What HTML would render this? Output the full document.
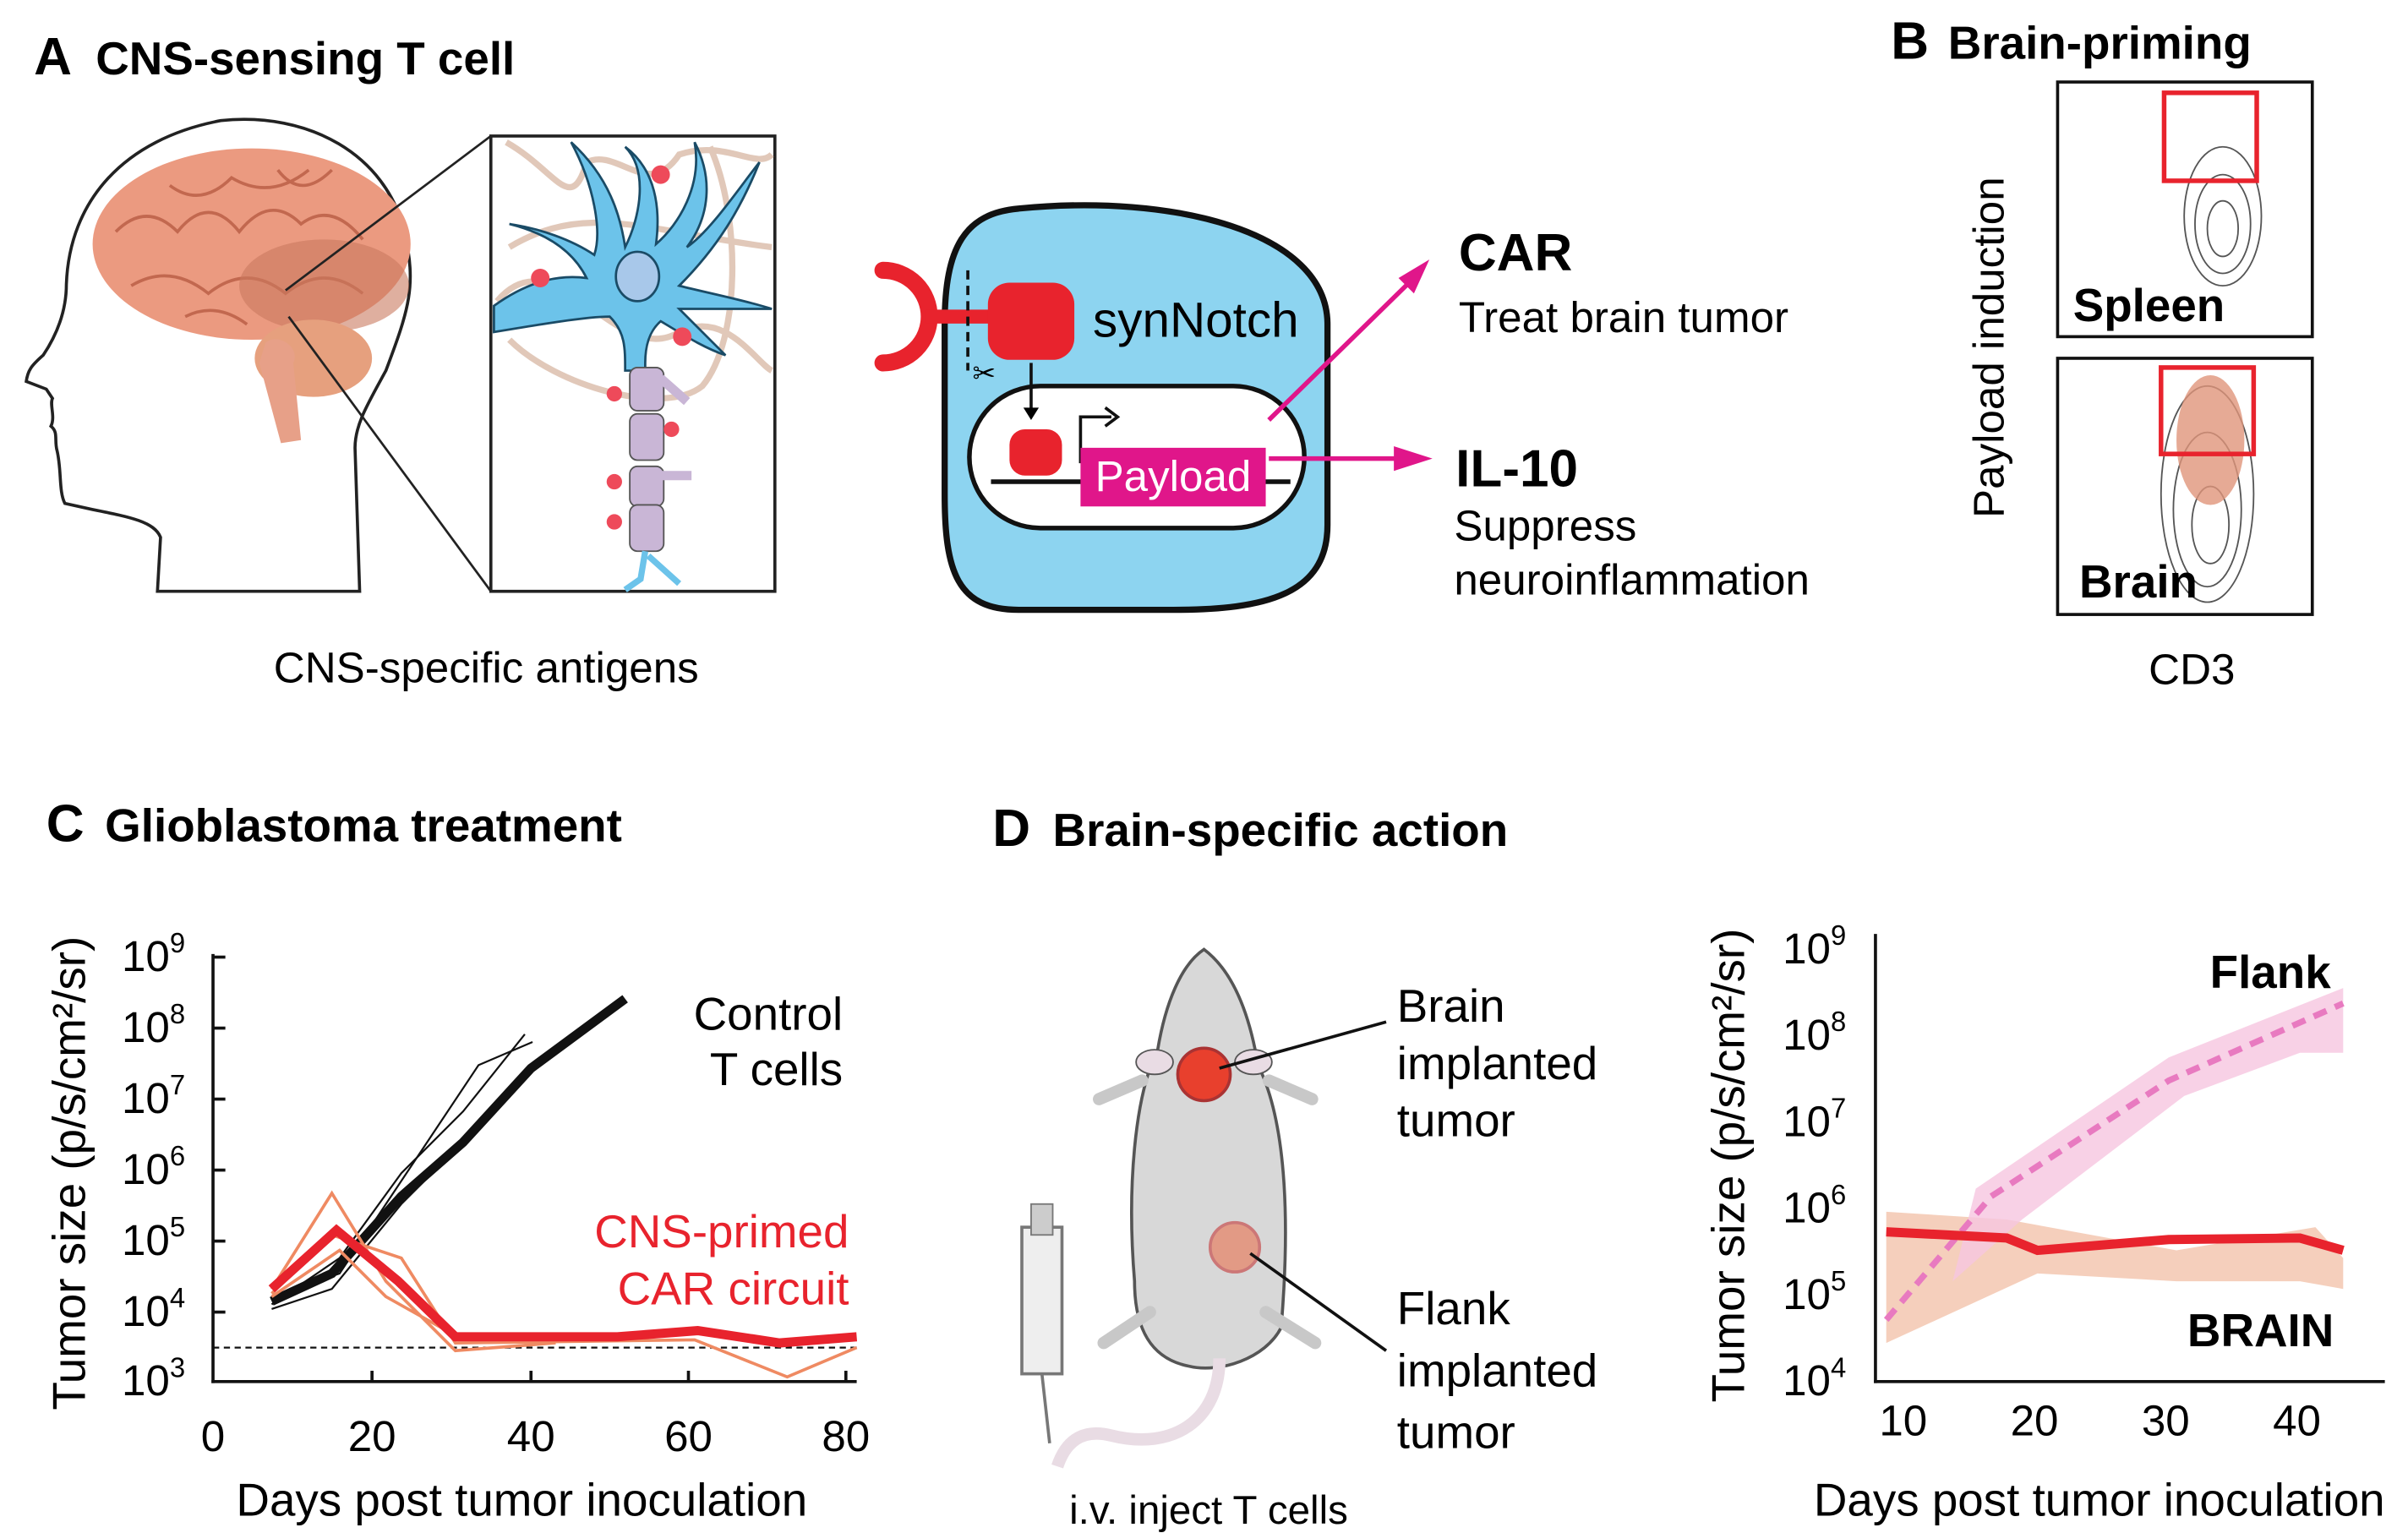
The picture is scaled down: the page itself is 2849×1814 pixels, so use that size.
<!DOCTYPE html>
<html><head><meta charset="utf-8"><style>
html,body{margin:0;padding:0;background:#fff}
svg{display:block}
text{font-family:"Liberation Sans Narrow","Liberation Sans",sans-serif}
.b{font-weight:bold}
</style></head><body>
<svg width="2849" height="1814" viewBox="0 0 1560 993" xmlns="http://www.w3.org/2000/svg">
<!-- Panel A -->
<text x="22" y="48" font-size="34" class="b">A</text>
<text x="62" y="48" font-size="30" class="b">CNS-sensing T cell</text>
<!-- head outline -->
<path d="M102,383 L104,348 C100,338 85,335 60,330 L42,326 C38,318 40,305 37,292 C35,285 38,280 33,276 C36,270 32,262 34,258 L30,252 L17,247 C18,240 20,237 28,230 C38,215 43,200 43,184 C45,130 80,90 143,78 C200,72 250,100 262,150 C270,185 265,200 250,240 C238,262 230,275 230,290 L233,383 Z" fill="none" stroke="#222" stroke-width="2"/>
<!-- brain -->
<ellipse cx="163" cy="158" rx="103" ry="62" fill="#eb9a80"/>
<path d="M75,150 q20,-20 40,0 q20,-25 40,0 q20,-25 40,-5 q20,-15 40,10 M85,185 q25,-15 50,5 q25,-20 50,0 q25,-20 50,0 M110,120 q20,15 40,-5 q25,15 50,-5 M180,110 q15,20 35,0 M120,205 q20,-10 40,5" fill="none" stroke="#c2684f" stroke-width="2"/>
<ellipse cx="210" cy="185" rx="55" ry="30" fill="#c97a5f" opacity="0.6"/>
<ellipse cx="203" cy="232" rx="38" ry="25" fill="#e6a07e"/>
<path d="M172,222 C180,215 195,225 190,235 L195,285 L182,287 L168,235 Z" fill="#e7a088"/>
<line x1="185" y1="188" x2="318" y2="88" stroke="#222" stroke-width="1.5"/>
<line x1="187" y1="205" x2="318" y2="383" stroke="#222" stroke-width="1.5"/>
<!-- inset -->
<rect x="318" y="88" width="184" height="295" fill="#fff" stroke="#222" stroke-width="2"/>
<path d="M328,92 C360,110 370,140 380,105 C400,95 420,130 440,100 C470,90 490,110 500,100 M322,195 C360,150 400,240 440,215 C470,200 490,235 500,240 M330,160 C380,130 420,150 500,160 M460,95 C480,140 480,220 455,250 C430,270 360,250 330,220" fill="none" stroke="#c99a80" stroke-width="4" opacity="0.55"/>
<path d="M320,198 C345,180 365,178 380,180 C370,160 350,150 330,145 C350,148 370,155 385,165 C390,150 385,120 370,92 C395,115 402,140 405,160 C415,140 420,110 405,95 C425,110 428,135 425,158 C440,145 455,120 450,92 C462,115 460,140 445,160 C460,150 480,120 492,105 C480,135 465,160 440,185 C460,190 485,195 500,200 C480,200 460,200 440,200 C450,210 460,220 470,230 C455,225 440,215 428,208 C420,215 418,225 418,235 L418,240 L405,240 C405,225 405,215 395,205 C380,205 350,210 320,215 Z" fill="#6cc3ea" stroke="#1a4b66" stroke-width="1.5"/>
<ellipse cx="413" cy="179" rx="14" ry="16" fill="#a8c8ea" stroke="#1a4b66" stroke-width="1.5"/>
<rect x="408" y="238" width="22" height="28" rx="5" fill="#c9b6d6" stroke="#555"/>
<rect x="408" y="268" width="22" height="30" rx="5" fill="#c9b6d6" stroke="#555"/>
<rect x="408" y="302" width="22" height="26" rx="5" fill="#c9b6d6" stroke="#555"/>
<rect x="408" y="327" width="22" height="30" rx="5" fill="#c9b6d6" stroke="#555"/>
<path d="M428,245 L445,260 M428,308 L448,308" stroke="#c9b6d6" stroke-width="6"/>
<path d="M418,357 L415,375 L405,382 M420,360 L440,378" fill="none" stroke="#6cc3ea" stroke-width="4"/>
<g fill="#ee4a5a"><circle cx="398" cy="255" r="5"/><circle cx="435" cy="278" r="5"/><circle cx="398" cy="312" r="5"/><circle cx="398" cy="338" r="5"/><circle cx="350" cy="180" r="6"/><circle cx="428" cy="113" r="6"/><circle cx="442" cy="218" r="6"/></g>
<text x="315" y="442" font-size="28" text-anchor="middle">CNS-specific antigens</text>
<!-- cell -->
<path d="M660,135 C760,125 860,150 860,210 L860,340 C860,385 820,395 760,395 L660,395 C620,395 612,370 612,320 L612,210 C612,160 625,138 660,135 Z" fill="#8dd4f0" stroke="#111" stroke-width="4"/>
<rect x="628" y="250" width="217" height="92" rx="46" fill="#fff" stroke="#111" stroke-width="3"/>
<path d="M572,175 A30,30 0 0 1 572,235" fill="none" stroke="#e8232d" stroke-width="11" stroke-linecap="round"/>
<line x1="600" y1="205" x2="645" y2="205" stroke="#e8232d" stroke-width="9"/>
<rect x="640" y="183" width="56" height="50" rx="14" fill="#e8232d"/>
<line x1="627" y1="175" x2="627" y2="240" stroke="#111" stroke-width="2" stroke-dasharray="6,4"/>
<text x="708" y="218" font-size="32">synNotch</text>
<text x="630" y="248" font-size="18">✂</text>
<line x1="668" y1="235" x2="668" y2="268" stroke="#111" stroke-width="2"/><path d="M663,264 L668,272 L673,264Z"/>
<rect x="654" y="278" width="34" height="30" rx="10" fill="#e8232d"/>
<line x1="642" y1="312" x2="836" y2="312" stroke="#111" stroke-width="3"/>
<path d="M700,300 L700,270 L720,270" fill="none" stroke="#111" stroke-width="2"/><path d="M716,264 L724,270 L716,276" fill="none" stroke="#111" stroke-width="2"/>
<rect x="700" y="290" width="120" height="38" fill="#e0168a"/>
<text x="760" y="318" font-size="28" fill="#fff" text-anchor="middle">Payload</text>
<line x1="822" y1="272" x2="918" y2="178" stroke="#e0168a" stroke-width="3"/><path d="M926,168 L906,180 L916,190Z" fill="#e0168a"/>
<line x1="822" y1="297" x2="905" y2="297" stroke="#e0168a" stroke-width="3"/><path d="M928,297 L903,289 L903,305Z" fill="#e0168a"/>
<text x="945" y="175" font-size="34" class="b">CAR</text>
<text x="945" y="215" font-size="28">Treat brain tumor</text>
<text x="943" y="315" font-size="34" class="b">IL-10</text>
<text x="942" y="350" font-size="28">Suppress</text>
<text x="942" y="385" font-size="28">neuroinflammation</text>
<!-- Panel B -->
<text x="1225" y="38" font-size="34" class="b">B</text>
<text x="1262" y="38" font-size="30" class="b">Brain-priming</text>
<rect x="1333" y="53" width="165" height="165" fill="#fff" stroke="#111" stroke-width="2"/>
<rect x="1333" y="232" width="165" height="166" fill="#fff" stroke="#111" stroke-width="2"/>
<g fill="none" stroke="#555" stroke-width="1">
<ellipse cx="1440" cy="140" rx="25" ry="45"/><ellipse cx="1440" cy="145" rx="18" ry="32"/><ellipse cx="1440" cy="148" rx="10" ry="18"/>
<ellipse cx="1430" cy="320" rx="30" ry="70"/><ellipse cx="1430" cy="330" rx="22" ry="50"/><ellipse cx="1432" cy="340" rx="12" ry="25"/>
</g>
<ellipse cx="1432" cy="285" rx="22" ry="42" fill="#e0957a" opacity="0.8"/>
<rect x="1402" y="60" width="60" height="57" fill="none" stroke="#e8232d" stroke-width="3"/>
<rect x="1400" y="238" width="60" height="56" fill="none" stroke="#e8232d" stroke-width="3"/>
<text x="1343" y="208" font-size="30" class="b">Spleen</text>
<text x="1347" y="387" font-size="30" class="b">Brain</text>
<text transform="translate(1298,225) rotate(-90)" font-size="28" text-anchor="middle">Payload induction</text>
<text x="1420" y="443" font-size="28" text-anchor="middle">CD3</text>
<!-- Panel C -->
<text x="30" y="545" font-size="34" class="b">C</text>
<text x="68" y="545" font-size="30" class="b">Glioblastoma treatment</text>
<line x1="138" y1="618" x2="138" y2="896" stroke="#111" stroke-width="2"/>
<line x1="137" y1="895" x2="555" y2="895" stroke="#111" stroke-width="2"/>
<g font-size="28" text-anchor="end">
<text x="120" y="629">10<tspan font-size="18" dy="-12">9</tspan></text>
<text x="120" y="675">10<tspan font-size="18" dy="-12">8</tspan></text>
<text x="120" y="721">10<tspan font-size="18" dy="-12">7</tspan></text>
<text x="120" y="767">10<tspan font-size="18" dy="-12">6</tspan></text>
<text x="120" y="813">10<tspan font-size="18" dy="-12">5</tspan></text>
<text x="120" y="859">10<tspan font-size="18" dy="-12">4</tspan></text>
<text x="120" y="904">10<tspan font-size="18" dy="-12">3</tspan></text>
</g>
<g stroke="#111" stroke-width="2"><line x1="138" y1="620" x2="146" y2="620"/><line x1="138" y1="666" x2="146" y2="666"/><line x1="138" y1="712" x2="146" y2="712"/><line x1="138" y1="758" x2="146" y2="758"/><line x1="138" y1="804" x2="146" y2="804"/><line x1="138" y1="850" x2="146" y2="850"/><line x1="241" y1="895" x2="241" y2="888"/><line x1="344" y1="895" x2="344" y2="888"/><line x1="446" y1="895" x2="446" y2="888"/><line x1="548" y1="895" x2="548" y2="888"/></g>
<g font-size="28" text-anchor="middle"><text x="138" y="940">0</text><text x="241" y="940">20</text><text x="344" y="940">40</text><text x="446" y="940">60</text><text x="548" y="940">80</text></g>
<text x="338" y="982" font-size="30" text-anchor="middle">Days post tumor inoculation</text>
<text transform="translate(55,760) rotate(-90)" font-size="30" text-anchor="middle">Tumor size (p/s/cm²/sr)</text>
<line x1="138" y1="873" x2="555" y2="873" stroke="#111" stroke-width="1.2" stroke-dasharray="4,3"/>
<g fill="none" stroke="#111" stroke-width="1.2"><polyline points="176,845 220,815 260,760 300,720 340,670"/><polyline points="176,840 220,825 270,750 310,690 345,675"/><polyline points="176,848 215,835 260,780 300,740 345,690 370,670"/></g>
<polyline points="176,843 215,825 260,775 300,740 344,692 405,647" fill="none" stroke="#111" stroke-width="6"/>
<g fill="none" stroke="#ef8a62" stroke-width="2"><polyline points="176,835 215,773 250,830 295,875 360,870"/><polyline points="176,838 215,800 260,815 295,870 450,868 510,892 555,873"/><polyline points="176,840 220,810 250,840 300,868"/></g>
<polyline points="176,835 218,797 258,830 295,866 400,866 452,862 505,870 555,866" fill="none" stroke="#e8232d" stroke-width="6"/>
<g font-size="30" text-anchor="end"><text x="546" y="667">Control</text><text x="546" y="703">T cells</text>
<text x="550" y="808" fill="#e8232d">CNS-primed</text><text x="550" y="845" fill="#e8232d">CAR circuit</text></g>
<!-- Panel D -->
<text x="643" y="548" font-size="34" class="b">D</text>
<text x="682" y="548" font-size="30" class="b">Brain-specific action</text>
<!-- mouse -->
<path d="M780,615 C800,630 810,660 815,690 C835,730 835,800 830,860 C820,880 790,890 770,885 C745,880 735,860 735,830 C730,770 735,710 750,680 C755,650 765,625 780,615 Z" fill="#d8d8d8" stroke="#555" stroke-width="2"/>
<path d="M790,880 C790,920 760,940 720,930 C700,925 690,935 685,950" fill="none" stroke="#e9dce4" stroke-width="8"/>
<ellipse cx="748" cy="688" rx="12" ry="8" fill="#e9dce4" stroke="#555"/><ellipse cx="812" cy="688" rx="12" ry="8" fill="#e9dce4" stroke="#555"/>
<path d="M740,700 L712,712 M822,700 L850,712 M745,850 L715,870 M820,850 L852,870" stroke="#c8c8c8" stroke-width="8" stroke-linecap="round"/>
<circle cx="780" cy="696" r="17" fill="#e8402d" stroke="#a33" stroke-width="2"/>
<circle cx="800" cy="808" r="16" fill="#e29a85" stroke="#c77" stroke-width="2"/>
<line x1="790" y1="692" x2="898" y2="662" stroke="#111" stroke-width="2"/>
<line x1="810" y1="812" x2="898" y2="875" stroke="#111" stroke-width="2"/>
<rect x="662" y="795" width="26" height="95" fill="#eee" stroke="#777" stroke-width="2"/>
<rect x="668" y="780" width="14" height="20" fill="#ccc" stroke="#777"/>
<line x1="675" y1="890" x2="680" y2="935" stroke="#777" stroke-width="2"/>
<g font-size="30"><text x="905" y="662">Brain</text><text x="905" y="699">implanted</text><text x="905" y="736">tumor</text>
<text x="905" y="858">Flank</text><text x="905" y="898">implanted</text><text x="905" y="938">tumor</text></g>
<text x="783" y="987" font-size="26" text-anchor="middle">i.v. inject T cells</text>
<!-- right plot -->
<line x1="1215" y1="605" x2="1215" y2="896" stroke="#111" stroke-width="2"/>
<line x1="1214" y1="895" x2="1545" y2="895" stroke="#111" stroke-width="2"/>
<g font-size="28" text-anchor="end">
<text x="1196" y="624">10<tspan font-size="18" dy="-12">9</tspan></text>
<text x="1196" y="680">10<tspan font-size="18" dy="-12">8</tspan></text>
<text x="1196" y="736">10<tspan font-size="18" dy="-12">7</tspan></text>
<text x="1196" y="792">10<tspan font-size="18" dy="-12">6</tspan></text>
<text x="1196" y="848">10<tspan font-size="18" dy="-12">5</tspan></text>
<text x="1196" y="904">10<tspan font-size="18" dy="-12">4</tspan></text>
</g>
<g font-size="28" text-anchor="middle"><text x="1233" y="930">10</text><text x="1318" y="930">20</text><text x="1403" y="930">30</text><text x="1488" y="930">40</text></g>
<text x="1360" y="982" font-size="30" text-anchor="middle">Days post tumor inoculation</text>
<text transform="translate(1130,755) rotate(-90)" font-size="30" text-anchor="middle">Tumor size (p/s/cm²/sr)</text>
<path d="M1222,785 L1300,790 L1410,810 L1500,795 L1518,815 L1518,835 L1490,830 L1410,830 L1320,825 L1222,870 Z" fill="#f2c3ab" opacity="0.8"/>
<path d="M1280,770 L1405,685 L1518,640 L1518,682 L1490,682 L1415,710 L1310,790 L1265,830 Z" fill="#f6c6e0" opacity="0.8"/>
<polyline points="1222,855 1290,775 1405,700 1518,650" fill="none" stroke="#e87ac0" stroke-width="4" stroke-dasharray="9,6"/>
<polyline points="1222,798 1300,802 1320,810 1405,803 1490,802 1518,810" fill="none" stroke="#e8232d" stroke-width="6"/>
<text x="1510" y="640" font-size="30" class="b" text-anchor="end">Flank</text>
<text x="1512" y="872" font-size="30" class="b" text-anchor="end">BRAIN</text>
</svg>
</body></html>
